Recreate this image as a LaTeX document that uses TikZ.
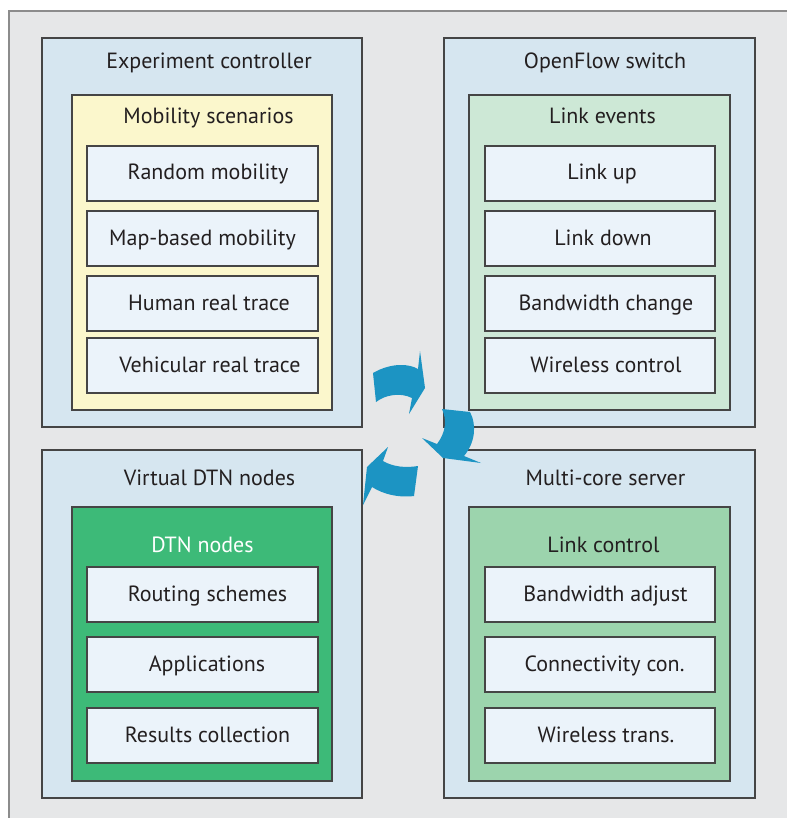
\documentclass[tikz,border=0pt]{standalone}
\usepackage{fontspec}
\setmainfont{PT Sans}
\definecolor{bggray}{HTML}{E6E7E8}
\definecolor{framegray}{HTML}{8C8C8C}
\definecolor{panelblue}{HTML}{D6E6F0}
\definecolor{edgegray}{HTML}{454545}
\definecolor{yellowbox}{HTML}{FBF7CC}
\definecolor{lightgreen}{HTML}{CDE8D6}
\definecolor{dtngreen}{HTML}{3DBA78}
\definecolor{midgreen}{HTML}{9CD4AD}
\definecolor{itemwhite}{HTML}{EBF3FA}
\definecolor{arrowblue}{HTML}{1C94C3}
\definecolor{txt}{HTML}{231F20}
\tikzset{
  boxline/.style={draw=edgegray, line width=1.2pt},
  panelbox/.style={boxline, fill=panelblue},
  itembox/.style={boxline, fill=itemwhite},
  lbl/.style={font=\fontsize{22}{26}\selectfont, text=txt, anchor=base, inner sep=0pt},
  cyclearrow/.style={fill=arrowblue, draw=none}
}
\newcommand{\bx}[5]{\path[#1] (#2,#3) rectangle (#4,#5);}
\begin{document}
\begin{tikzpicture}[x=1pt,y=-1pt]
\useasboundingbox (0,0) rectangle (787,818);
\fill[bggray] (9,11) rectangle (787,818);
\draw[framegray, line width=1.5pt] (9,818) -- (9,11) -- (787,11);

% panels
\bx{panelbox}{42}{38}{362}{427}
\bx{panelbox}{444}{38}{755}{427}
\bx{panelbox}{42}{450}{362}{798}
\bx{panelbox}{444}{450}{755}{798}

% inner boxes
\bx{boxline, fill=yellowbox}{72}{95}{332}{410}
\bx{boxline, fill=lightgreen}{469}{95}{730}{410}
\bx{boxline, fill=dtngreen}{72}{507}{332}{781}
\bx{boxline, fill=midgreen}{469}{507}{730}{781}

% items top-left
\bx{itembox}{87}{146}{318}{201}
\bx{itembox}{87}{211}{318}{266}
\bx{itembox}{87}{276}{318}{331}
\bx{itembox}{87}{338}{318}{393}
% items top-right
\bx{itembox}{485}{146}{715}{201}
\bx{itembox}{485}{211}{715}{266}
\bx{itembox}{485}{276}{715}{331}
\bx{itembox}{485}{338}{715}{393}
% items bottom-left
\bx{itembox}{87}{567}{318}{622}
\bx{itembox}{87}{637}{318}{692}
\bx{itembox}{87}{708}{318}{763}
% items bottom-right
\bx{itembox}{485}{567}{715}{622}
\bx{itembox}{485}{637}{715}{692}
\bx{itembox}{485}{708}{715}{763}

% titles
\node[lbl] (t1) at (209,69) {Experiment controller};
\node[lbl] (t2) at (605,69) {OpenFlow switch};
\node[lbl] (t3) at (209.5,485) {Virtual DTN nodes};
\node[lbl] (t4) at (605.5,485) {Multi-core server};
\node[lbl] (s1) at (208.5,123.5) {Mobility scenarios};
\node[lbl] (s2) at (602.5,124) {Link events};
\node[lbl, text=white] (s3) at (202.5,552.5) {DTN nodes};
\node[lbl] (s4) at (603.5,552) {Link control};

% items text
\node[lbl] (a1) at (208,180) {Random mobility};
\node[lbl] (a2) at (202.5,245) {Map-based mobility};
\node[lbl] (a3) at (209,310) {Human real trace};
\node[lbl] (a4) at (210,372) {Vehicular real trace};
\node[lbl] (b1) at (602,180) {Link up};
\node[lbl] (b2) at (603,245) {Link down};
\node[lbl] (b3) at (606,310) {Bandwidth change};
\node[lbl] (b4) at (606,372) {Wireless control};
\node[lbl] (c1) at (207.5,601) {Routing schemes};
\node[lbl] (c2) at (207,671) {Applications};
\node[lbl] (c3) at (207.5,742) {Results collection};
\node[lbl] (d1) at (605.5,601) {Bandwidth adjust};
\node[lbl] (d2) at (604.5,671) {Connectivity con.};
\node[lbl] (d3) at (606,742) {Wireless trans.};

% cycle arrows
\fill[cyclearrow] (373,373) .. controls (392,362) and (410,364) .. (418,369)
  -- (420,351) -- (425,388) -- (409,414) -- (412,398)
  .. controls (400,392) and (385,395) .. (376,402) -- cycle;
\fill[cyclearrow] (442,409) -- (470,412) .. controls (477,425) and (475,443) .. (464,456)
  -- (481,463) -- (443,458) -- (422,438) -- (437,444)
  .. controls (446,432) and (447,420) .. (442,409) -- cycle;
\fill[cyclearrow] (418,466) -- (414,496) .. controls (398,498) and (383,494) .. (372,487)
  -- (363,505) -- (367,467) -- (388,447) -- (383,461)
  .. controls (393,467) and (406,468) .. (418,466) -- cycle;
\end{tikzpicture}
\end{document}
